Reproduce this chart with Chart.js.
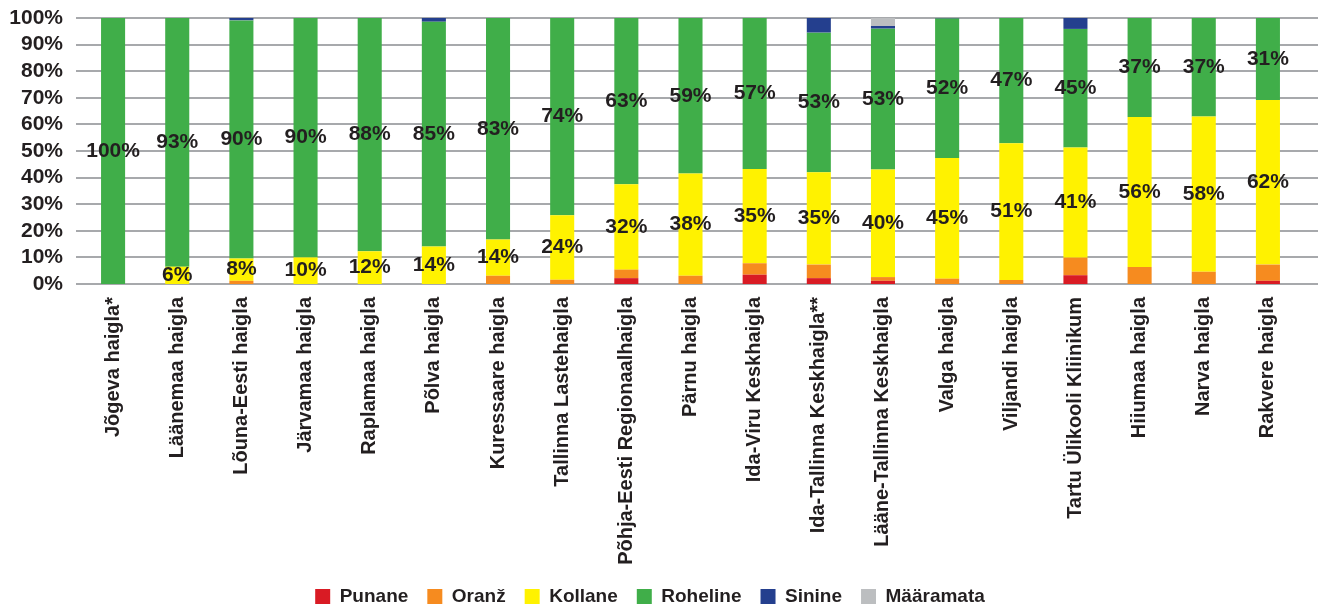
<!DOCTYPE html>
<html>
<head>
<meta charset="utf-8">
<script src="https://cdn.jsdelivr.net/npm/chart.js@4.4.1/dist/chart.umd.min.js"></script>
<style>
html,body{margin:0;padding:0;background:#fff;}
#wrap{width:1323px;height:608px;position:relative;}
</style>
</head>
<body>
<div id="wrap"><canvas id="c" width="1323" height="608"></canvas></div>
<script>
const categories = [
  'Jõgeva haigla*','Läänemaa haigla','Lõuna-Eesti haigla','Järvamaa haigla','Raplamaa haigla',
  'Põlva haigla','Kuressaare haigla','Tallinna Lastehaigla','Põhja-Eesti Regionaalhaigla','Pärnu haigla',
  'Ida-Viru Keskhaigla','Ida-Tallinna Keskhaigla**','Lääne-Tallinna Keskhaigla','Valga haigla','Viljandi haigla',
  'Tartu Ülikooli Kliinikum','Hiiumaa haigla','Narva haigla','Rakvere haigla'
];
const seriesNames = ['Punane','Oranž','Kollane','Roheline','Sinine','Määramata'];
const punane    = [0,0,0,0,0,0,0,0,2.2,0,3.5,2.2,1.2,0,0,3.3,0,0,1.2];
const oranz     = [0,0,1.2,0,0,0,3.1,1.6,3.2,3.1,4.3,5.1,1.4,2.0,1.5,6.6,6.4,4.6,6.1];
const kollane   = [0,6.49,8.4,10,12.3,14.1,13.6,24.2,32.1,38.4,35.4,34.7,40.4,45.4,51.4,41.4,56.4,58.4,61.9];
const roheline  = [100,93.49,89.5,90,87.7,84.5,83.3,74.2,62.5,58.5,56.8,52.5,53.0,52.4,47.1,44.6,37.2,37.0,30.8];
const sinine    = [0,0,0.9,0,0,1.4,0,0,0,0,0,5.5,1.0,0.2,0,4.1,0,0,0];
const maaramata = [0,0,0,0,0,0,0,0,0,0,0,0,3.0,0,0,0,0,0,0];
const yTicks = [0,10,20,30,40,50,60,70,80,90,100];
const labelledSeries = ['Kollane','Roheline'];

const colors = ['#d91b24','#f68b1f','#fff200','#40ae49','#243f8e','#bcbec0'];
const seriesData = [punane, oranz, kollane, roheline, sinine, maaramata];
const FONT = "'Liberation Sans', Arial, sans-serif";
const TEXT = '#231f20';

const gridPlugin = {
  id: 'customGrid',
  beforeDatasetsDraw(chart) {
    const ctx = chart.ctx, y = chart.scales.y;
    ctx.save();
    ctx.strokeStyle = '#a7a9ac';
    ctx.lineWidth = 2;
    yTicks.forEach(v => {
      const py = Math.round(y.getPixelForValue(v));
      ctx.beginPath();
      ctx.moveTo(76, py);
      ctx.lineTo(1318, py);
      ctx.stroke();
    });
    ctx.restore();
  }
};

const labelPlugin = {
  id: 'segLabels',
  afterDatasetsDraw(chart) {
    const ctx = chart.ctx;
    ctx.save();
    ctx.font = 'bold 21px ' + FONT;
    ctx.fillStyle = TEXT;
    ctx.textAlign = 'center';
    ctx.textBaseline = 'middle';
    chart.data.datasets.forEach((ds, di) => {
      if (!labelledSeries.includes(ds.label)) return;
      const meta = chart.getDatasetMeta(di);
      meta.data.forEach((el, i) => {
        const v = ds.data[i];
        if (!v) return;
        ctx.fillText(Math.round(v) + '%', el.x, (el.y + el.base) / 2);
      });
    });
    ctx.restore();
  }
};

const legendTune = {
  id: 'legendTune',
  beforeLayout(chart) {
    const lg = chart.legend;
    if (lg && !lg._patched) {
      const f = lg.fit.bind(lg);
      lg.fit = function () { f(); this.height = 30; };
      lg._patched = true;
    }
  },
  afterLayout(chart) {
    const lg = chart.legend;
    if (lg) { lg.top -= 10; lg.bottom = chart.height; lg.height = lg.bottom - lg.top; }
  }
};

new Chart(document.getElementById('c'), {
  type: 'bar',
  data: {
    labels: categories,
    datasets: seriesNames.map((n, i) => ({
      label: n,
      data: seriesData[i],
      backgroundColor: colors[i],
      borderWidth: 0,
      barPercentage: 0.375,
      categoryPercentage: 1
    }))
  },
  options: {
    responsive: false,
    animation: false,
    events: [],
    layout: { padding: { top: 18, right: 23, left: 0, bottom: 0 } },
    plugins: {
      tooltip: { enabled: false },
      legend: {
        position: 'bottom',
        labels: {
          boxWidth: 15, boxHeight: 15, padding: 19,
          color: TEXT,
          font: { family: FONT, size: 19, weight: 'bold' }
        }
      }
    },
    scales: {
      x: {
        stacked: true,
        grid: { display: false },
        border: { display: false },
        ticks: {
          autoSkip: false, maxRotation: 90, minRotation: 90, padding: 5,
          color: TEXT,
          font: { family: FONT, size: 20, weight: 'bold' }
        },
        afterFit(scale) { scale.height = 294; scale.paddingLeft = 0; scale.paddingRight = 0; }
      },
      y: {
        stacked: true,
        min: 0, max: 100,
        grid: { display: false, drawTicks: false },
        border: { display: false },
        ticks: {
          autoSkip: false,
          stepSize: 10, padding: 18,
          color: TEXT,
          font: { family: FONT, size: 21, weight: 'bold' },
          callback: v => v + '%'
        },
        afterFit(scale) { scale.width = 81; scale.paddingTop = 0; scale.paddingBottom = 0; }
      }
    }
  },
  plugins: [gridPlugin, labelPlugin, legendTune]
});
</script>
</body>
</html>
